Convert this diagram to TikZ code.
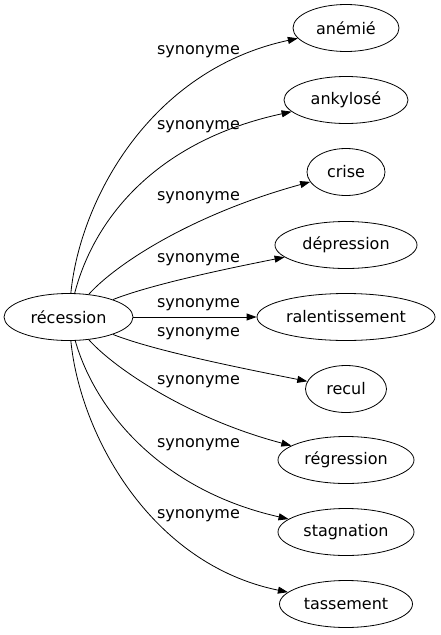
\documentclass[tikz,border=0pt]{standalone}
\usepackage{fontspec}
\setmainfont{DejaVu Sans}
\usetikzlibrary{shapes.geometric,arrows.meta}

\begin{document}
\begin{tikzpicture}[x=1pt,y=-1pt,line width=0.8pt,
  mot/.style={draw,ellipse,inner sep=0pt,minimum height=47pt},
  syn/.style={-{Triangle[length=10pt,width=7pt]}},
  lab/.style={inner sep=0pt}]
\useasboundingbox (0,0) rectangle (441,635);
\fontsize{16pt}{19pt}\selectfont
\node[mot,minimum width=129pt] (recession) at (68.5,317) {récession};

\node[mot,minimum width=106pt] (anemie) at (346,28) {anémié};
\node[mot,minimum width=124pt] (ankylose) at (346,100) {ankylosé};
\node[mot,minimum width=78pt] (crise) at (346,172) {crise};
\node[mot,minimum width=142pt] (depression) at (346,245) {dépression};
\node[mot,minimum width=178pt] (ralentissement) at (346,317) {ralentissement};
\node[mot,minimum width=81pt] (recul) at (346,389) {recul};
\node[mot,minimum width=136pt] (regression) at (346,460) {régression};
\node[mot,minimum width=136pt] (stagnation) at (346,532) {stagnation};
\node[mot,minimum width=133pt] (tassement) at (346,604) {tassement};

\draw[syn] (recession) .. controls (80,200) and (150,70) .. (anemie);
\draw[syn] (recession) .. controls (95,215) and (160,140) .. (ankylose);
\draw[syn] (recession) .. controls (115,265) and (190,215) .. (crise);
\draw[syn] (recession) .. controls (150,285) and (220,270) .. (depression);
\draw[syn] (recession) -- (ralentissement);
\draw[syn] (recession) .. controls (150,349) and (220,364) .. (recul);
\draw[syn] (recession) .. controls (115,369) and (190,419) .. (regression);
\draw[syn] (recession) .. controls (95,410) and (160,490) .. (stagnation);
\draw[syn] (recession) .. controls (80,434) and (150,564) .. (tassement);

\node[lab] (l1) at (198.5,52) {synonyme};
\node[lab] (l2) at (198.5,127) {synonyme};
\node[lab] (l3) at (198.5,198) {synonyme};
\node[lab] (l4) at (198.5,260) {synonyme};
\node[lab] (l5) at (198.5,305) {synonyme};
\node[lab] (l6) at (198.5,334) {synonyme};
\node[lab] (l7) at (198.5,382) {synonyme};
\node[lab] (l8) at (198.5,445) {synonyme};
\node[lab] (l9) at (198.5,516) {synonyme};
\end{tikzpicture}
\end{document}
